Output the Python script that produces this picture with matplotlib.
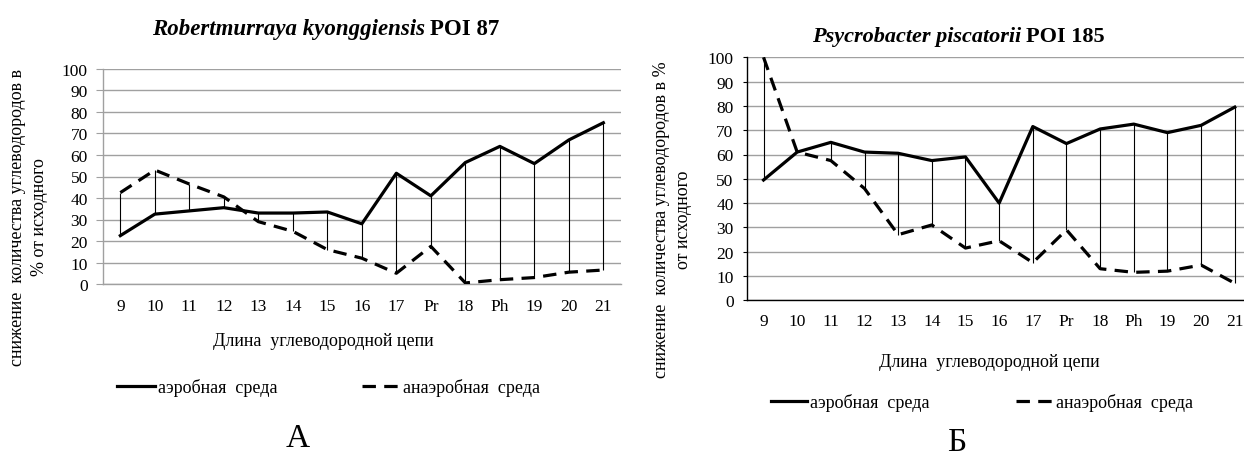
import matplotlib.pyplot as plt
from matplotlib.lines import Line2D

plt.rcParams['font.family'] = ['Liberation Serif', 'DejaVu Serif']

# chain length categories (x axis)
chain = ['9', '10', '11', '12', '13', '14', '15', '16', '17', 'Pr', '18', 'Ph', '19', '20', '21']

# A: Robertmurraya kyonggiensis POI 87, decrease in % of initial
aer_a = [22.5, 32.5, 34, 35.5, 33, 33, 33.5, 28, 51.5, 41, 56.5, 64, 56, 67, 75]
anaer_a = [42.5, 53, 46.5, 40.5, 29, 24.5, 16, 12, 5, 17.5, 0.5, 2, 3, 5.5, 6.5]

# Б: Psycrobacter piscatorii POI 185
aer_b = [49.5, 61, 65, 61, 60.5, 57.5, 59, 40, 71.5, 64.5, 70.5, 72.5, 69, 72, 79.5]
anaer_b = [100, 61, 57.5, 46, 27, 31, 21.5, 24.5, 15.5, 29, 13, 11.5, 12, 14.5, 7]

yticks = list(range(0, 101, 10))
labels = ['аэробная  среда', 'анаэробная  среда']

W, H = 1244, 456
DASH = (0, (4.2, 2.6))
FS = 13


def box(x0, top, x1, bottom):
    return [x0 / W, 1 - bottom / H, (x1 - x0) / W, (bottom - top) / H]


def panel(ax, aer, anaer, spine_col, tick_len, ypad, xpad):
    x = list(range(len(chain)))
    lo = [min(a, b) for a, b in zip(aer, anaer)]
    hi = [max(a, b) for a, b in zip(aer, anaer)]
    ax.vlines(x, lo, hi, color='black', lw=0.8, zorder=2)
    ax.plot(x, aer, color='black', lw=2.3, zorder=3)
    ax.plot(x, anaer, color='black', lw=2.3, linestyle=DASH, zorder=3)
    ax.set_xlim(-0.5, len(chain) - 0.5)
    ax.set_ylim(0, 100)
    ax.set_yticks(yticks)
    ax.set_xticks(x)
    ax.set_xticklabels(chain)
    ax.grid(axis='y', color='#a0a0a0', lw=1.0)
    ax.set_axisbelow(True)
    for s in ['top', 'right']:
        ax.spines[s].set_visible(False)
    for s in ['left', 'bottom']:
        ax.spines[s].set_color(spine_col)
        ax.spines[s].set_linewidth(1.0)
    ax.tick_params(axis='y', length=tick_len, color=spine_col, pad=ypad, labelsize=12.5)
    ax.tick_params(axis='x', length=0, pad=xpad, labelsize=12.5)


def title(x, y, species, strain, size):
    t = fig.text(x / W, 1 - y / H, species + ' ', style='italic', weight='bold',
                 fontsize=size, va='baseline')
    fig.canvas.draw()
    bb = t.get_window_extent()
    fig.text(bb.x1 / W, 1 - y / H, strain, weight='bold', fontsize=size, va='baseline')


fig = plt.figure(figsize=(W / 100, H / 100), dpi=100)

ax1 = fig.add_axes(box(103.1, 70, 620.6, 285))
panel(ax1, aer_a, anaer_a, '#a0a0a0', 5, 6.0, 10.0)

ax2 = fig.add_axes(box(746.7, 58.3, 1251.6, 301.3))
panel(ax2, aer_b, anaer_b, 'black', 3, 6.5, 9.5)

title(151.7, 35, 'Robertmurraya kyonggiensis', 'POI 87', 16.5)
title(811.7, 41.7, 'Psycrobacter piscatorii', 'POI 185', 16)

# y axis titles
fig.text(28.6 / W, 1 - 217 / H, 'снижение  количества углеводородов в\n% от исходного',
         rotation=90, ha='center', va='center', multialignment='center',
         fontsize=FS, linespacing=1.35)
fig.text(672.7 / W, 1 - 220 / H, 'снижение  количества углеводородов в %\nот исходного',
         rotation=90, ha='center', va='center', multialignment='center',
         fontsize=FS, linespacing=1.35)

# x axis titles
fig.text(323 / W, 1 - 341.7 / H, 'Длина  углеводородной цепи', ha='center', va='center', fontsize=FS)
fig.text(989.5 / W, 1 - 363 / H, 'Длина  углеводородной цепи', ha='center', va='center', fontsize=FS)

# legends
handles = [Line2D([], [], color='black', lw=2.3),
           Line2D([], [], color='black', lw=2.3, linestyle=DASH)]
fig.legend(handles, labels, loc='center left', bbox_to_anchor=(116.7 / W, 1 - 388.3 / H),
           ncol=2, frameon=False, fontsize=FS, handlelength=2.1, handletextpad=0.17,
           columnspacing=4.7, borderpad=0, borderaxespad=0)
fig.legend(handles, labels, loc='center left', bbox_to_anchor=(771 / W, 1 - 403.3 / H),
           ncol=2, frameon=False, fontsize=FS, handlelength=2.0, handletextpad=0.17,
           columnspacing=4.8, borderpad=0, borderaxespad=0)

# panel letters
fig.text(298 / W, 1 - 446.7 / H, 'А', ha='center', va='baseline', fontsize=24)
fig.text(956.6 / W, 1 - 451 / H, 'Б', ha='center', va='baseline', fontsize=24)

fig.savefig('out.png', dpi=100, facecolor='white')
